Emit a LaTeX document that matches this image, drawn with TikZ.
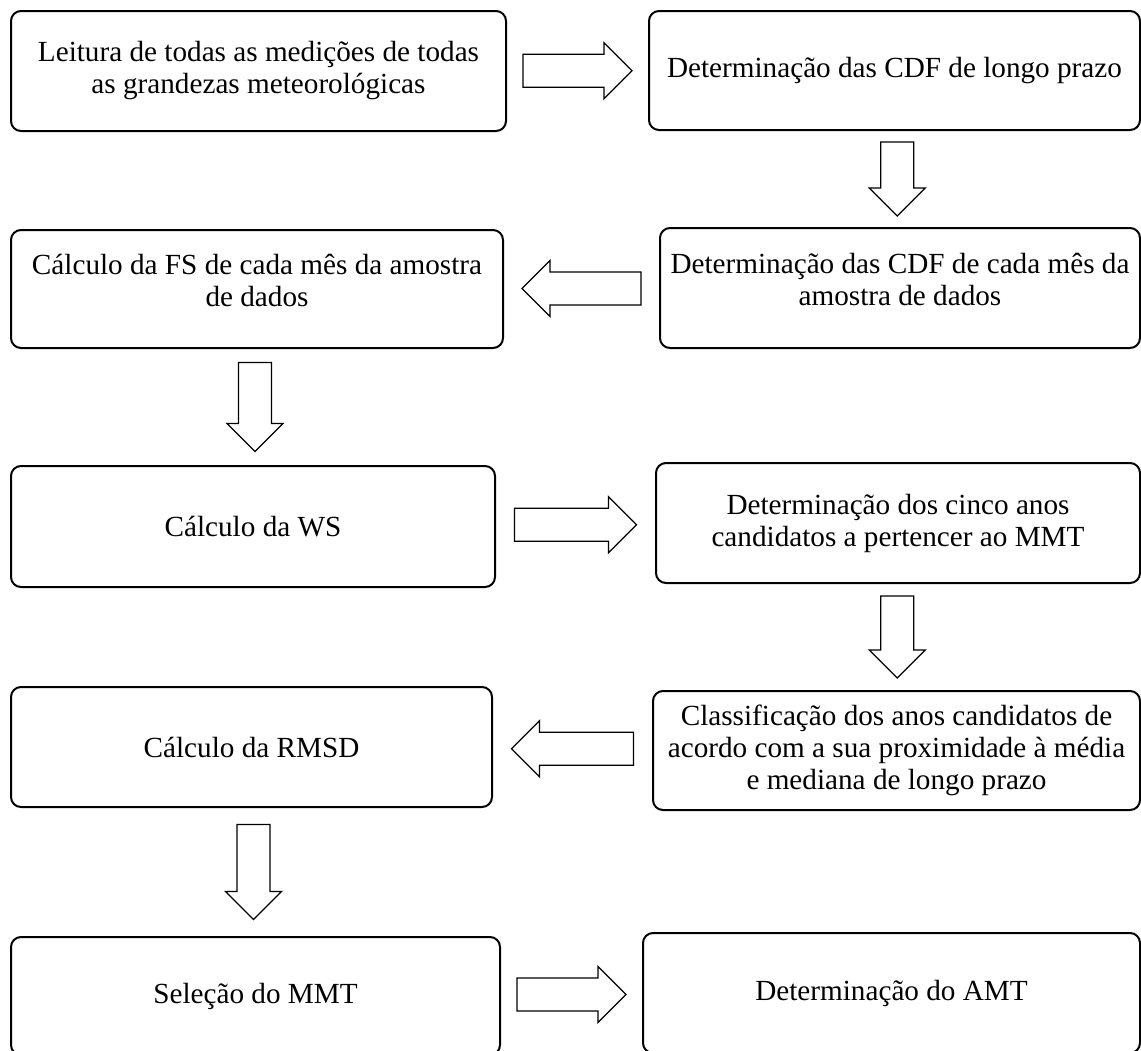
\documentclass[tikz,border=0pt]{standalone}
\usepackage{fontspec}
\setmainfont{Liberation Serif}
\usepackage{tikz}
\usetikzlibrary{calc}

\tikzset{
	stage/.style={draw,line width=2pt,rounded corners=10pt,align=center,font=\fontsize{29.2}{32}\selectfont},
	arrowline/.style={draw,line width=1.3pt,fill=white,line join=miter},
	pics/hollowarrow/.style={code={
		\path[arrowline] (-#1/2,-16.5) -- (#1/2-28,-16.5) -- (#1/2-28,-28) -- (#1/2,0) -- (#1/2-28,28) -- (#1/2-28,16.5) -- (-#1/2,16.5) -- cycle;
	}}
}

\begin{document}
\begin{tikzpicture}[x=1pt,y=-1pt]
		\useasboundingbox (0,0) rectangle (1141,1050);
		\node[stage,minimum width=495pt,minimum height=120pt] (leitura) at (258.5,71) {Leitura de todas as medições de todas\\as grandezas meteorológicas};
		\node[stage,minimum width=491pt,minimum height=119pt] (cdflp) at (894.5,70.5) {Determinação das CDF de longo prazo};
		\node[stage,minimum width=492pt,minimum height=118pt,text depth=18pt] (fs) at (257,289) {Cálculo da FS de cada mês da amostra\\de dados};
		\node[stage,minimum width=480pt,minimum height=120pt,text depth=18pt] (cdfmes) at (900,288) {Determinação das CDF de cada mês da\\amostra de dados};
		\node[stage,minimum width=484pt,minimum height=121pt] (ws) at (253,526.5) {Cálculo da WS};
		\node[stage,minimum width=484pt,minimum height=120pt] (cand) at (898,523) {Determinação dos cinco anos\\candidatos a pertencer ao MMT};
		\node[stage,minimum width=481pt,minimum height=120pt] (rmsd) at (251.5,747) {Cálculo da RMSD};
		\node[stage,minimum width=487pt,minimum height=119pt] (classif) at (896.5,750.5) {Classificação dos anos candidatos de\\acordo com a sua proximidade à média\\e mediana de longo prazo};
		\node[stage,minimum width=489pt,minimum height=118pt] (mmt) at (255.5,996) {Seleção do MMT};
		\node[stage,minimum width=497pt,minimum height=120pt] (amt) at (891.5,993) {Determinação do AMT};
		\coordinate (a1) at ($(leitura.east)!0.5!(cdflp.west)$);
		\coordinate (a2) at ($(cdflp.south)!0.5!(cdfmes.north)$);
		\coordinate (a3) at ($(cdfmes.west)!0.5!(fs.east)$);
		\coordinate (a4) at ($(fs.south)!0.5!(ws.north)$);
		\coordinate (a5) at ($(ws.east)!0.5!(cand.west)$);
		\coordinate (a6) at ($(cand.south)!0.5!(classif.north)$);
		\coordinate (a7) at ($(classif.west)!0.5!(rmsd.east)$);
		\coordinate (a8) at ($(rmsd.south)!0.5!(mmt.north)$);
		\coordinate (a9) at ($(mmt.east)!0.5!(amt.west)$);
		\pic at (a1) {hollowarrow=109};
		\pic[rotate=-90] at (a2) {hollowarrow=74};
		\pic[rotate=180] at (a3) {hollowarrow=119};
		\pic[rotate=-90] at (a4) {hollowarrow=89};
		\pic at (a5) {hollowarrow=122};
		\pic[rotate=-90] at (a6) {hollowarrow=82};
		\pic[rotate=180] at (a7) {hollowarrow=122};
		\pic[rotate=-90] at (a8) {hollowarrow=95};
		\pic at (a9) {hollowarrow=109};
	\end{tikzpicture}
\end{document}
